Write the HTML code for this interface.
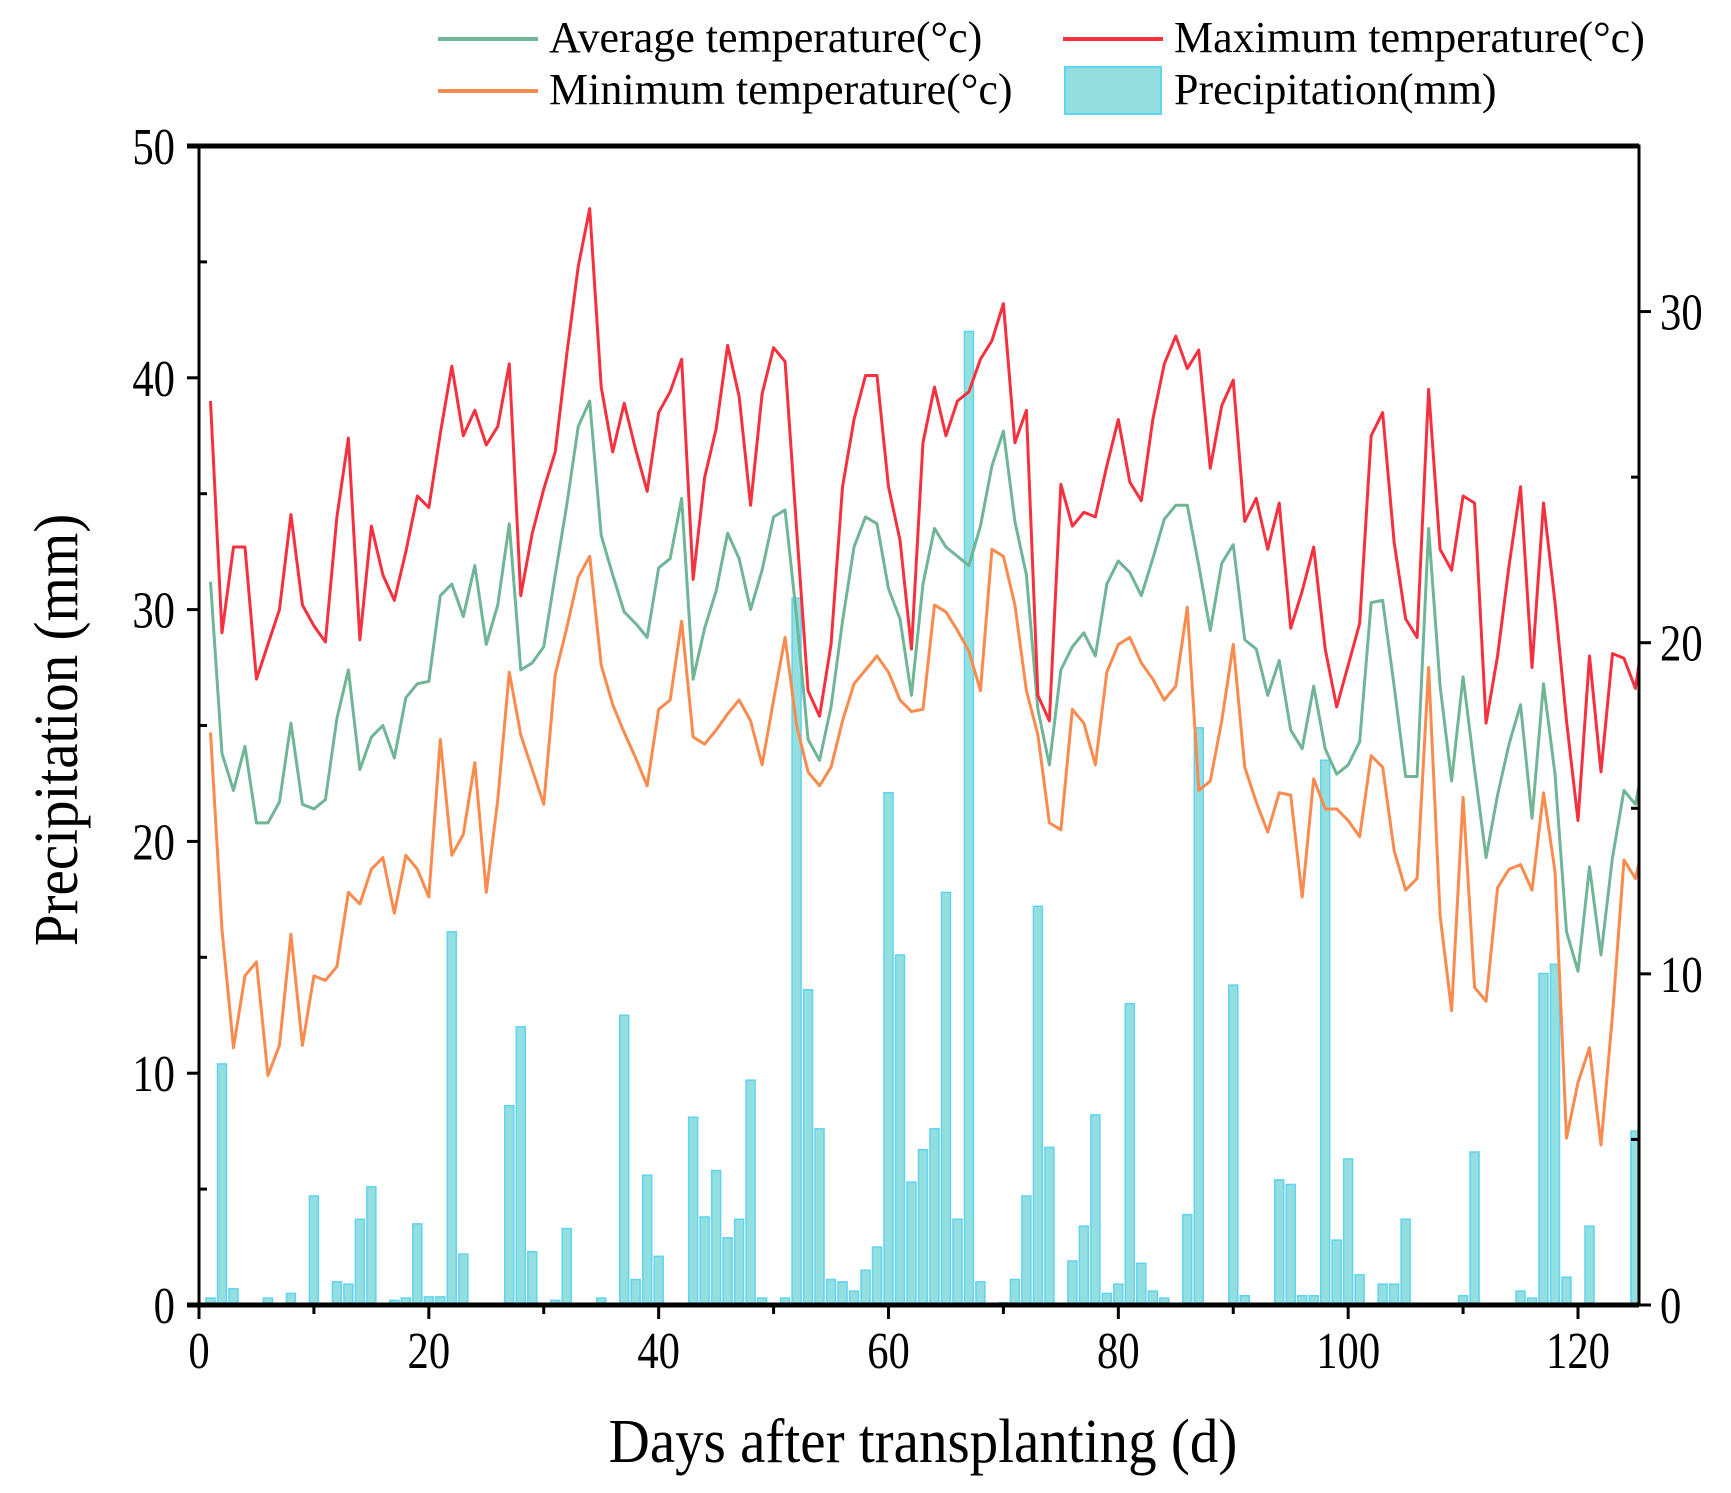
<!DOCTYPE html>
<html><head><meta charset="utf-8"><style>
html,body{margin:0;padding:0;background:#fff}
svg{display:block;font-family:"Liberation Serif",serif}
</style></head><body>
<svg id="chart" width="1731" height="1493" viewBox="0 0 1731 1493">
<defs><clipPath id="plotclip"><rect x="199" y="146" width="1440" height="1159"/></clipPath></defs>
<g id="legend">
 <line x1="438" y1="39" x2="538" y2="39" stroke="#6fb596" stroke-width="4"/>
 <text x="549" y="52" font-size="44">Average temperature(°c)</text>
 <line x1="1063" y1="39" x2="1163" y2="39" stroke="#f5313f" stroke-width="4"/>
 <text x="1174" y="52" font-size="44">Maximum temperature(°c)</text>
 <line x1="438" y1="91" x2="538" y2="91" stroke="#fa8b4e" stroke-width="4"/>
 <text x="549" y="104" font-size="44">Minimum temperature(°c)</text>
 <rect x="1065" y="67" width="96" height="47" fill="#93dfe0" stroke="#5fd3f0" stroke-width="2"/>
 <text x="1174" y="104" font-size="44">Precipitation(mm)</text>
</g>
<g id="bars" clip-path="url(#plotclip)"></g>
<g id="lines" clip-path="url(#plotclip)"></g>
<g id="axes"></g>
<text x="0" y="0" font-size="62" text-anchor="middle" transform="translate(57 730) rotate(-90) scale(0.92 1)" dy="20">Precipitation (mm)</text>
<text x="0" y="0" font-size="62" text-anchor="middle" transform="translate(923 1462) scale(0.92 1)">Days after transplanting (d)</text>
</svg>
<script>
const maxTemp=[39,29,32.7,32.7,27,28.5,30,34.1,30.2,29.3,28.6,34,37.4,28.7,33.6,31.5,30.4,32.5,34.9,34.4,37.6,40.5,37.5,38.6,37.1,37.9,40.6,30.6,33.3,35.2,36.8,41,44.8,47.3,39.6,36.8,38.9,36.9,35.1,38.5,39.4,40.8,31.3,35.7,37.8,41.4,39.2,34.5,39.3,41.3,40.7,33.5,26.5,25.4,28.5,35.3,38.2,40.1,40.1,35.3,33,28.3,37.2,39.6,37.5,39,39.4,40.8,41.6,43.2,37.2,38.6,26.3,25.2,35.4,33.6,34.2,34,36.2,38.2,35.5,34.7,38.2,40.6,41.8,40.4,41.2,36.1,38.8,39.9,33.8,34.8,32.6,34.6,29.2,30.8,32.7,28.3,25.8,27.6,29.4,37.5,38.5,32.9,29.6,28.8,39.5,32.6,31.7,34.9,34.6,25.1,28,31.9,35.3,27.5,34.6,30.3,25.2,20.9,28,23,28.1,27.9,26.6,30];
const avgTemp=[31.2,23.8,22.2,24.1,20.8,20.8,21.7,25.1,21.6,21.4,21.8,25.3,27.4,23.1,24.5,25,23.6,26.2,26.8,26.9,30.6,31.1,29.7,31.9,28.5,30.2,33.7,27.4,27.7,28.4,31.5,34.5,37.9,39,33.2,31.5,29.9,29.4,28.8,31.8,32.2,34.8,27,29.2,30.8,33.3,32.2,30,31.7,34,34.3,29.7,24.4,23.5,25.8,29.5,32.7,34,33.7,30.9,29.6,26.3,31.1,33.5,32.7,32.3,31.9,33.6,36.2,37.7,33.8,31.5,25.7,23.3,27.4,28.4,29,28,31.1,32.1,31.6,30.6,32.2,33.9,34.5,34.5,31.9,29.1,32,32.8,28.7,28.3,26.3,27.8,24.8,24,26.7,24,22.9,23.3,24.3,30.3,30.4,26.7,22.8,22.8,33.5,26.7,22.6,27.1,23.1,19.3,22,24.2,25.9,21,26.8,22.9,16.1,14.4,18.9,15.1,19.3,22.2,21.6,24.2];
const minTemp=[24.7,16.2,11.1,14.2,14.8,9.9,11.2,16,11.2,14.2,14,14.6,17.8,17.3,18.8,19.3,16.9,19.4,18.8,17.6,24.4,19.4,20.3,23.4,17.8,21.8,27.3,24.6,23.1,21.6,27.2,29.2,31.4,32.3,27.6,25.9,24.7,23.6,22.4,25.7,26.1,29.5,24.5,24.2,24.8,25.5,26.1,25.2,23.3,26.1,28.8,25,23,22.4,23.2,25.2,26.8,27.4,28,27.3,26.1,25.6,25.7,30.2,29.9,29.1,28.2,26.5,32.6,32.3,30.2,26.5,24.6,20.8,20.5,25.7,25.1,23.3,27.3,28.5,28.8,27.7,27,26.1,26.7,30.1,22.2,22.6,25.2,28.5,23.2,21.7,20.4,22.1,22,17.6,22.7,21.4,21.4,20.9,20.2,23.7,23.2,19.6,17.9,18.4,27.5,16.8,12.7,21.9,13.7,13.1,18,18.8,19,17.9,22.1,18.7,7.2,9.6,11.1,6.9,12.5,19.2,18.4,20.6];
const precipDays=[1,2,3,6,8,10,12,13,14,15,17,18,19,20,21,22,23,27,28,29,31,32,35,37,38,39,40,41,43,44,45,46,47,48,49,51,52,53,54,55,56,57,58,59,60,61,62,63,64,65,66,67,68,70,71,72,73,74,76,77,78,79,80,81,82,83,84,86,87,90,91,94,95,96,97,98,99,100,101,103,104,105,110,111,115,116,117,118,119,121,125,126];
const precipVals=[0.3,10.4,0.7,0.3,0.5,4.7,1.0,0.9,3.7,5.1,0.2,0.3,3.5,0.35,0.35,16.1,2.2,8.6,12,2.3,0.2,3.3,0.3,12.5,1.1,5.6,2.1,0.05,8.1,3.8,5.8,2.9,3.7,9.7,0.3,0.3,30.5,13.6,7.6,1.1,1.0,0.6,1.5,2.5,22.1,15.1,5.3,6.7,7.6,17.8,3.7,42,1.0,0.1,1.1,4.7,17.2,6.8,1.9,3.4,8.2,0.5,0.9,13,1.8,0.6,0.3,3.9,24.9,13.8,0.4,5.4,5.2,0.4,0.4,23.5,2.8,6.3,1.3,0.9,0.9,3.7,0.4,6.6,0.6,0.3,14.3,14.7,1.2,3.4,7.5,6.6];
const xTicks=[0,20,40,60,80,100,120];
const yTicks=[0,10,20,30,40,50];
const y2Ticks=[0,10,20,30];

const NS="http://www.w3.org/2000/svg";
const L=199,R=1639,T=146,B=1305;
const X=d=>L+d*(1578-L)/120;
const Y=v=>B-v*(B-T)/50;
const Y2=v=>B-v*(B-T)/35;
function mk(tag,attrs,parent){const e=document.createElementNS(NS,tag);for(const k in attrs)e.setAttribute(k,attrs[k]);parent.appendChild(e);return e;}
function label(x,y,txt,anchor){return mk('text',{x:0,y:0,'font-size':52,'text-anchor':anchor,transform:'translate('+x+' '+y+') scale(0.82 1)'},document.getElementById('axes'));}
const bars=document.getElementById('bars'),lines=document.getElementById('lines'),axes=document.getElementById('axes');
precipDays.forEach((d,i)=>{
 const v=precipVals[i];
 const r=mk('rect',{x:X(d)-4.5,y:Y(v),width:9,height:B-Y(v),fill:'#93dfe0',stroke:'#5fd3f0','stroke-width':1.5},bars);
 
 
});
[[minTemp,'#fa8b4e','min-temperature-line'],[avgTemp,'#6fb596','average-temperature-line'],[maxTemp,'#f5313f','max-temperature-line']].forEach(([arr,c,n])=>{
 const p=mk('polyline',{points:arr.map((v,i)=>X(i+1)+','+Y(v)).join(' '),fill:'none',stroke:c,'stroke-width':3,'stroke-linejoin':'round'},lines);
 
 
});
const frame=mk('rect',{x:L,y:T,width:R-L,height:B-T,fill:'none',stroke:'#000','stroke-width':3},axes);


const bx=mk('line',{x1:L-12,y1:B,x2:R,y2:B,stroke:'#000','stroke-width':5},axes);


const tx=mk('line',{x1:L-12,y1:T,x2:R,y2:T,stroke:'#000','stroke-width':5},axes);


for(let d=0;d<=120;d+=10){mk('line',{x1:X(d),y1:B,x2:X(d),y2:B+(d%20===0?14:9),stroke:'#000','stroke-width':3},axes);}
xTicks.forEach(d=>{const t=label(X(d),1368,d,'middle');t.textContent=d;
 
 });
for(let v=0;v<=50;v+=5){ if(v%10===0) mk('line',{x1:L-12,y1:Y(v),x2:L,y2:Y(v),stroke:'#000','stroke-width':3},axes); else mk('line',{x1:L,y1:Y(v),x2:L+8,y2:Y(v),stroke:'#000','stroke-width':3},axes);}
yTicks.forEach(v=>{const t=label(175,Y(v)+18,v,'end');t.textContent=v;
 
 });
for(let v=0;v<=35;v+=5){ if(v%10===0) mk('line',{x1:R,y1:Y2(v),x2:R+12,y2:Y2(v),stroke:'#000','stroke-width':3},axes); else mk('line',{x1:R-8,y1:Y2(v),x2:R,y2:Y2(v),stroke:'#000','stroke-width':3},axes);}
y2Ticks.forEach(v=>{const t=label(1660,Y2(v)+18,v,'start');t.textContent=v;
 
 });
</script>
</body></html>
